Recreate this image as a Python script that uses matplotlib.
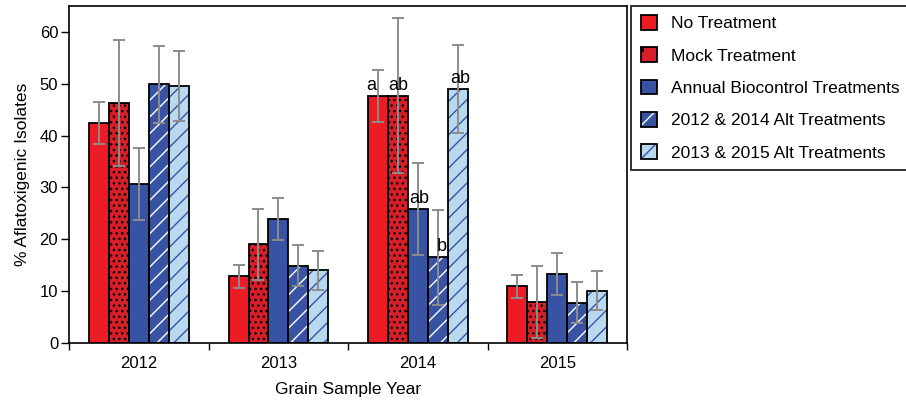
import matplotlib
matplotlib.use('Agg')

import numpy as np
import matplotlib.pyplot as plt
from matplotlib.patches import Patch

plt.rcParams['font.family'] = ['Liberation Sans', 'DejaVu Sans']
plt.rcParams['hatch.linewidth'] = 1.0

years = ['2012', '2013', '2014', '2015']
treatments = ['No Treatment', 'Mock Treatment', 'Annual Biocontrol Treatments',
              '2012 & 2014 Alt Treatments', '2013 & 2015 Alt Treatments']

# mean % aflatoxigenic isolates, one list per treatment (2012..2015)
no_treat = [42.4, 12.9, 47.7, 10.9]
mock = [46.3, 19.0, 47.7, 7.9]
annual = [30.7, 23.9, 25.8, 13.3]
alt_1214 = [49.9, 14.9, 16.5, 7.8]
alt_1315 = [49.6, 14.0, 49.0, 10.1]

# error bar half widths
err_no = [4.0, 2.2, 5.0, 2.2]
err_mock = [12.2, 6.9, 15.0, 7.0]
err_annual = [7.0, 4.0, 8.9, 4.0]
err_1214 = [7.4, 4.0, 9.2, 4.0]
err_1315 = [6.8, 3.8, 8.5, 3.8]

# significance letters for 2014
letters_2014 = ['a', 'ab', 'ab', 'b', 'ab']

values = [no_treat, mock, annual, alt_1214, alt_1315]
errors = [err_no, err_mock, err_annual, err_1214, err_1315]

# face, hatch colour, hatch
styles = [
    ('#ed1c24', None, ''),
    ('#d71f29', 'black', '...'),
    ('#3953a4', None, ''),
    ('#3953a4', 'white', '//'),
    ('#b9d9f1', '#3953a4', '//'),
]

fig = plt.figure(figsize=(9.06, 4.0), dpi=100)
ax = fig.add_axes([0.0765, 0.1425, 0.6155, 0.8425])

x = np.arange(len(years))
w = 0.143
handles = []
for i, (vals, errs, (fc, hc, hatch)) in enumerate(zip(values, errors, styles)):
    pos = x + (i - 2) * w
    if hatch:
        ax.bar(pos, vals, w, color=fc, edgecolor=hc, hatch=hatch, linewidth=0, zorder=2)
        ax.bar(pos, vals, w, fill=False, edgecolor='black', linewidth=1.3, zorder=3)
        h = (Patch(facecolor=fc, edgecolor=hc, hatch=hatch[0], linewidth=0),
             Patch(fill=False, edgecolor='black', linewidth=1.3))
    else:
        ax.bar(pos, vals, w, color=fc, edgecolor='black', linewidth=1.3, zorder=3)
        h = Patch(facecolor=fc, edgecolor='black', linewidth=1.3)
    handles.append(h)
    ax.errorbar(pos, vals, yerr=errs, fmt='none', ecolor='#8c8c8c',
                elinewidth=1.4, capsize=4.5, capthick=1.4, zorder=4)

# letters over 2014 bars
dx = [-0.05, 0.0, 0.01, 0.03, 0.018]
for i, lab in enumerate(letters_2014):
    ax.text(2 + (i - 2) * w + dx[i], values[i][2] + 0.4, lab,
            ha='center', va='bottom', fontsize=13, zorder=5)

ax.set_xlim(-0.5, 3.5)
ax.set_ylim(0, 65)
ax.set_yticks(range(0, 61, 10))
ax.set_xticks(x)
ax.set_xticklabels(years)
ax.set_xticks(np.arange(-0.5, 3.6, 1.0), minor=True)
ax.tick_params(axis='x', which='major', length=0, pad=9, labelsize=12)
ax.tick_params(axis='x', which='minor', length=5, width=1, direction='out')
ax.tick_params(axis='y', length=6, width=1, pad=2, labelsize=12)
for s in ax.spines.values():
    s.set_linewidth(1.2)

ax.set_ylabel('% Aflatoxigenic Isolates', fontsize=12.5, labelpad=7)
ax.set_xlabel('Grain Sample Year', fontsize=12.5, labelpad=8)

leg = fig.legend(handles, treatments, loc='upper left',
                 bbox_to_anchor=(0.6965, 0.986), fontsize=12.5,
                 frameon=True, fancybox=False, handlelength=0.92,
                 handleheight=0.92, handletextpad=0.85, labelspacing=0.92,
                 borderpad=0.55, borderaxespad=0)
leg.get_frame().set_edgecolor('black')
leg.get_frame().set_linewidth(1.4)

fig.savefig('out.png', dpi=100)
